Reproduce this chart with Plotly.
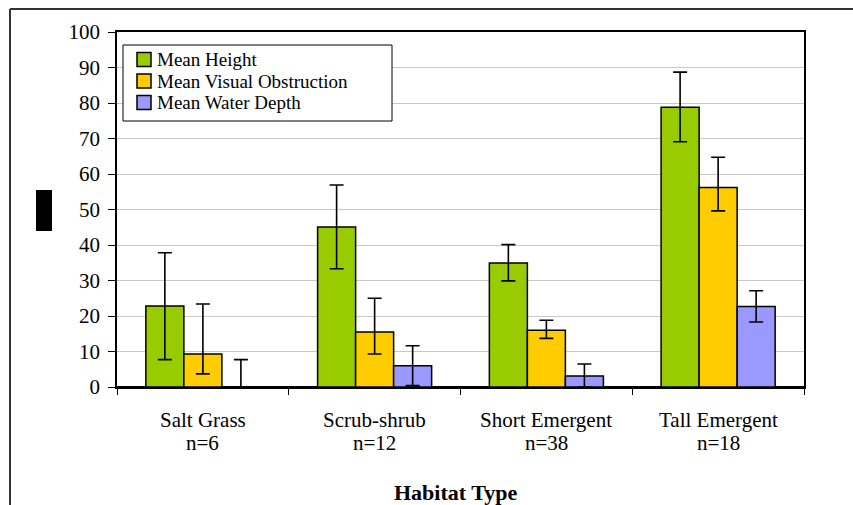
import plotly.graph_objects as go

# Habitat categories and sample sizes
habitats = ["Salt Grass", "Scrub-shrub", "Short Emergent", "Tall Emergent"]
sample_sizes = ["n=6", "n=12", "n=38", "n=18"]

# Means per habitat
mean_height = [22.8, 45.1, 34.9, 78.8]
mean_visual = [9.3, 15.5, 16.0, 56.2]
mean_water = [0.0, 6.0, 3.1, 22.7]

# Error bar extents (upper / lower)
height_err_plus = [15.0, 11.8, 5.2, 9.9]
height_err_minus = [15.1, 11.8, 5.0, 9.7]
visual_err_plus = [14.1, 9.5, 2.8, 8.5]
visual_err_minus = [5.6, 6.2, 2.3, 6.6]
water_err_plus = [7.7, 5.6, 3.4, 4.4]
water_err_minus = [0.0, 5.6, 3.1, 4.4]

series = [
    ("Mean Height", mean_height, height_err_plus, height_err_minus, "#99CC00"),
    ("Mean Visual Obstruction", mean_visual, visual_err_plus, visual_err_minus, "#FFCC00"),
    ("Mean Water Depth", mean_water, water_err_plus, water_err_minus, "#9999FF"),
]

FONT = "Liberation Serif"
W, H = 853, 505
ML, MR, MT, MB = 117, 49, 32, 118
PW, PH = W - ML - MR, H - MT - MB


def px(x):
    """Horizontal pixel position -> paper fraction."""
    return (x - ML) / PW


def py(y):
    """Vertical pixel position (from top) -> paper fraction."""
    return (H - MB - y) / PH


fig = go.Figure()
for name, vals, ep, em, color in series:
    fig.add_trace(go.Bar(
        name=name, x=habitats, y=vals,
        marker=dict(color=color, line=dict(color="black", width=1.5)),
        error_y=dict(type="data", symmetric=False, array=ep, arrayminus=em,
                     color="black", thickness=1.6, width=7),
    ))

fig.update_layout(
    width=W, height=H,
    margin=dict(l=ML, r=MR, t=MT, b=MB),
    paper_bgcolor="white", plot_bgcolor="white",
    barmode="group", bargap=0.336, bargroupgap=0,
    font=dict(family=FONT, size=21, color="black"),
    showlegend=False,
    xaxis=dict(
        tickson="boundaries", ticks="outside", ticklen=6, tickcolor="black",
        showline=True, linecolor="black", linewidth=1.5, mirror=True,
        showgrid=False, showticklabels=False,
    ),
    yaxis=dict(
        range=[0, 100], dtick=10, ticks="outside", ticklen=7, tickcolor="black",
        showline=True, linecolor="black", linewidth=1.5, mirror=True,
        showgrid=True, gridcolor="#C8C8C8", gridwidth=1.2,
        zeroline=True, zerolinecolor="black", zerolinewidth=1.5,
        ticklabelstandoff=4,
        tickfont=dict(family=FONT, size=21, color="black"),
    ),
)

# Category labels (name over sample size)
for name, n in zip(habitats, sample_sizes):
    fig.add_annotation(x=name, xref="x", y=py(420), yref="paper", yanchor="middle",
                       text=name, showarrow=False,
                       font=dict(family=FONT, size=21, color="black"))
    fig.add_annotation(x=name, xref="x", y=py(443), yref="paper", yanchor="middle",
                       text=n, showarrow=False,
                       font=dict(family=FONT, size=21, color="black"))

# X axis title
fig.add_annotation(x=px(455), xref="paper", y=py(492), yref="paper",
                   xanchor="center", yanchor="middle",
                   text="<b>Habitat Type</b>", showarrow=False,
                   font=dict(family=FONT, size=22, color="black"))

# Legend box with swatches
fig.add_shape(type="rect", xref="paper", yref="paper",
              x0=px(123), x1=px(392), y0=py(121), y1=py(45),
              fillcolor="white", line=dict(color="black", width=1))
for i, (name, _, _, _, color) in enumerate(series):
    cy = 59.5 + i * 21.5
    fig.add_shape(type="rect", xref="paper", yref="paper",
                  x0=px(137), x1=px(151), y0=py(cy + 7), y1=py(cy - 7),
                  fillcolor=color, line=dict(color="black", width=1.5))
    fig.add_annotation(x=px(156), xref="paper", y=py(cy), yref="paper",
                       xanchor="left", yanchor="middle", text=name, showarrow=False,
                       borderpad=0,
                       font=dict(family=FONT, size=19, color="black"))

# Outer chart frame (top and left edges) and the y-axis title block
fig.add_shape(type="line", xref="paper", yref="paper",
              x0=px(10), x1=px(860), y0=py(9), y1=py(9),
              line=dict(color="#333333", width=2))
fig.add_shape(type="line", xref="paper", yref="paper",
              x0=px(10), x1=px(10), y0=py(9), y1=py(510),
              line=dict(color="#333333", width=2))
fig.add_shape(type="rect", xref="paper", yref="paper",
              x0=px(36), x1=px(52), y0=py(231), y1=py(190),
              fillcolor="black", line=dict(width=0))

fig.write_html("out.html")
